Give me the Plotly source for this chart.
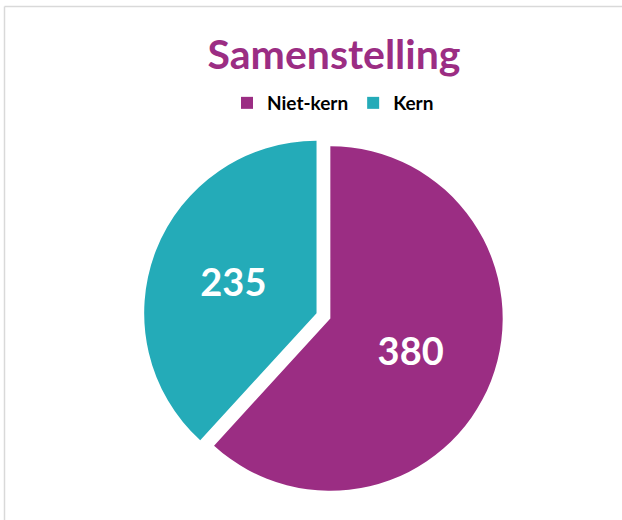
import plotly.graph_objects as go

categories = ["Niet-kern", "Kern"]
values = [380, 235]
colors = ["#9B2D83", "#24ABB8"]
title_text = "Samenstelling"

fig = go.Figure(go.Pie(
    labels=categories,
    values=values,
    sort=False,
    direction="clockwise",
    rotation=0,
    pull=[0.043, 0.043],
    marker=dict(colors=colors, line=dict(width=0)),
    textinfo="value",
    textposition="inside",
    insidetextorientation="horizontal",
    textfont=dict(family="Lato", size=38, color="white", weight="bold"),
    domain=dict(x=[0.2310, 0.8090], y=[0.0440, 0.7413]),
    hoverinfo="label+value",
))

fig.update_layout(
    width=622, height=520,
    margin=dict(l=0, r=0, t=0, b=0),
    paper_bgcolor="white",
    plot_bgcolor="white",
    title=dict(text="<b>%s</b>" % title_text, x=0.537, xanchor="center",
               y=1 - 55 / 520, yanchor="middle",
               font=dict(family="Lato", size=41, color="#9B2D83")),
    legend=dict(orientation="h", x=333 / 622, xanchor="center",
                y=1 - 103 / 520, yanchor="middle",
                font=dict(family="Lato", size=19, color="black", weight="bold"),
                itemwidth=30, traceorder="normal"),
    shapes=[
        dict(type="line", xref="paper", yref="paper", x0=4.5 / 622, x1=1, y0=1 - 6.5 / 520, y1=1 - 6.5 / 520,
             line=dict(color="#D9D9D9", width=1.5)),
        dict(type="line", xref="paper", yref="paper", x0=4.5 / 622, x1=4.5 / 622, y0=0, y1=1 - 6.5 / 520,
             line=dict(color="#D9D9D9", width=1.5)),
    ],
)

fig.write_html("out.html", config={"displayModeBar": False},
               post_script="document.body.style.margin='0';")
